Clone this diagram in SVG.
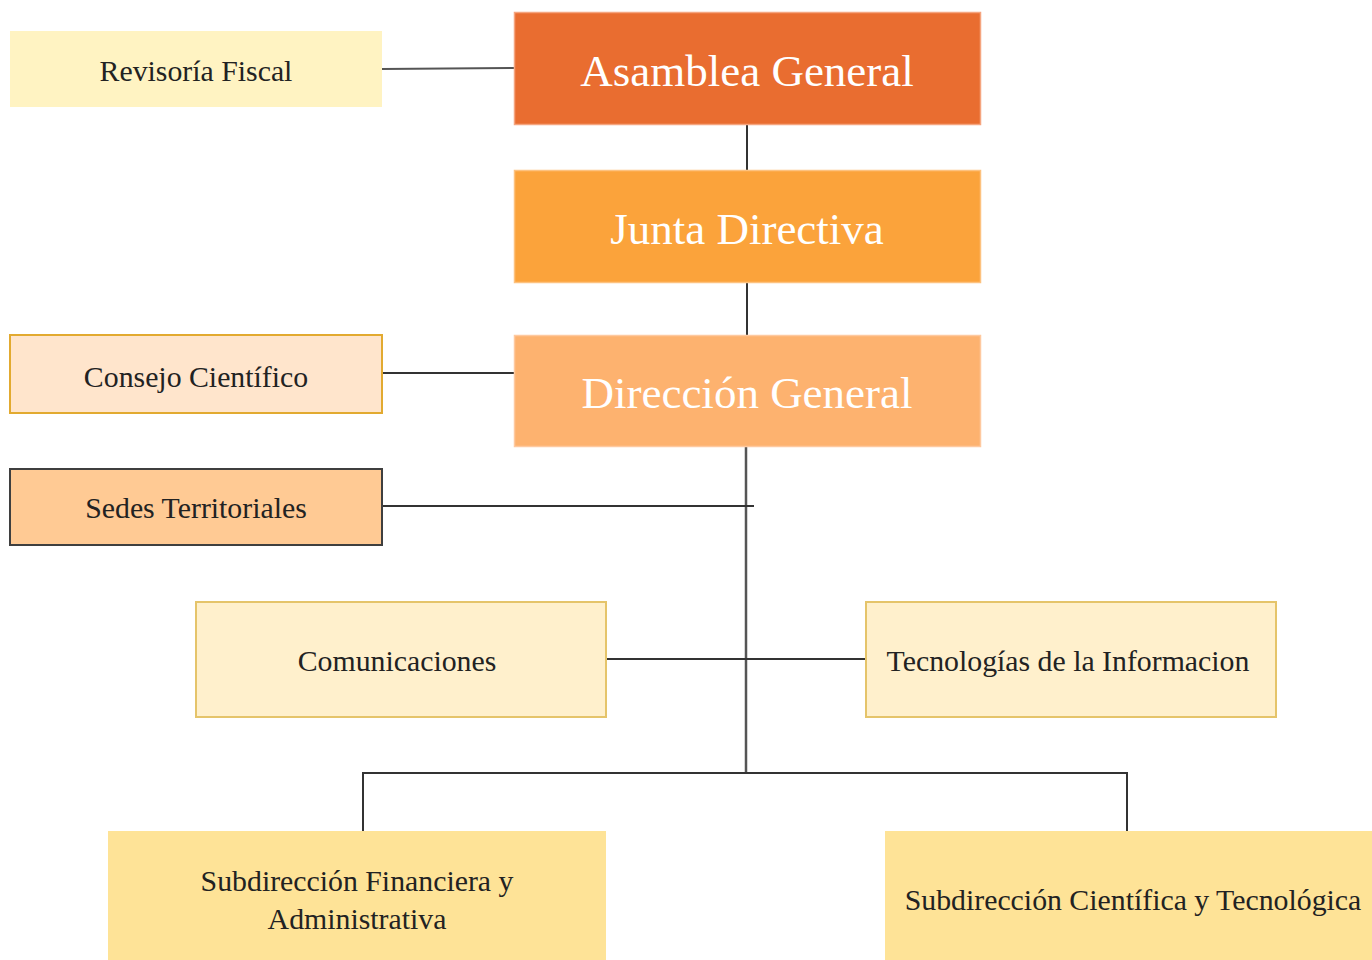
<svg xmlns="http://www.w3.org/2000/svg" width="1372" height="960" viewBox="0 0 1372 960">
<style>
  .big { font-family: "Liberation Serif", "Times New Roman", serif; font-size: 45px; fill: #ffffff; text-anchor: middle; }
  .sm { font-family: "Liberation Serif", "Times New Roman", serif; font-size: 29.8px; fill: #222222; text-anchor: middle; }
  .ln { stroke: #333333; stroke-width: 2; fill: none; }
</style>
<rect width="1372" height="960" fill="#ffffff"/>
<g id="connectors">
  <line class="ln" x1="382" y1="69" x2="514" y2="68" style="stroke:#555555"/>
  <line class="ln" x1="747" y1="125" x2="747" y2="170"/>
  <line class="ln" x1="747" y1="283" x2="747" y2="335"/>
  <line class="ln" x1="382" y1="373" x2="514" y2="373"/>
  <line class="ln" x1="746" y1="447" x2="746" y2="773" style="stroke:#555555;stroke-width:2.5"/>
  <line class="ln" x1="382" y1="506" x2="754" y2="506"/>
  <line class="ln" x1="606" y1="659" x2="866" y2="659"/>
  <polyline class="ln" points="363,831 363,773 1127,773 1127,831"/>
</g>
<g id="revisoria">
  <rect x="10" y="31" width="372" height="76" fill="#FFF3C2"/>
  <text class="sm" x="196" y="81">Revisoría Fiscal</text>
</g>
<g id="asamblea">
  <rect x="514.5" y="12.5" width="466" height="112" fill="#E96D30" stroke="#F5A57F" stroke-width="1.5"/>
  <text class="big" x="747" y="86">Asamblea General</text>
</g>
<g id="junta">
  <rect x="514.5" y="170.5" width="466" height="112" fill="#FBA33B" stroke="#FDC27F" stroke-width="1.5"/>
  <text class="big" x="747" y="244">Junta Directiva</text>
</g>
<g id="direccion">
  <rect x="514.5" y="335.5" width="466" height="111" fill="#FDB26F" stroke="#FEC9A0" stroke-width="1.5"/>
  <text class="big" x="747" y="408">Dirección General</text>
</g>
<g id="consejo">
  <rect x="10" y="335" width="372" height="78" fill="#FFE5CC" stroke="#E2AA30" stroke-width="2"/>
  <text class="sm" x="196" y="387">Consejo Científico</text>
</g>
<g id="sedes">
  <rect x="10" y="469" width="372" height="76" fill="#FFCA94" stroke="#3F3F3F" stroke-width="2"/>
  <text class="sm" x="196" y="518">Sedes Territoriales</text>
</g>
<g id="comunicaciones">
  <rect x="196" y="602" width="410" height="115" fill="#FFF0CC" stroke="#E5C46A" stroke-width="2"/>
  <text class="sm" x="397" y="671">Comunicaciones</text>
</g>
<g id="tecnologias">
  <rect x="866" y="602" width="410" height="115" fill="#FFF0CC" stroke="#E5C46A" stroke-width="2"/>
  <text class="sm" x="1068" y="671">Tecnologías de la Informacion</text>
</g>
<g id="sub-financiera">
  <rect x="108" y="831" width="498" height="135" fill="#FEE397"/>
  <text class="sm" x="357" y="891">Subdirección Financiera y</text>
  <text class="sm" x="357" y="929">Administrativa</text>
</g>
<g id="sub-cientifica">
  <rect x="885" y="831" width="495" height="135" fill="#FEE397"/>
  <text class="sm" x="1133" y="910">Subdirección Científica y Tecnológica</text>
</g>
</svg>
